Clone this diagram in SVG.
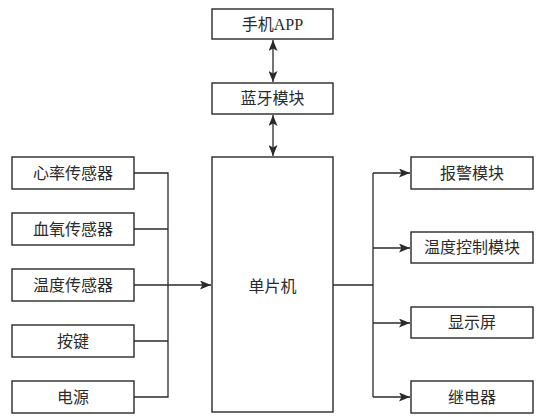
<svg xmlns="http://www.w3.org/2000/svg" width="537" height="417" viewBox="0 0 537 417">
<style>
.box{fill:#fff;stroke:#2a2a2a;stroke-width:1.4}
.t{font-family:"Liberation Serif","Noto Sans CJK SC",serif;font-size:16px;fill:#2a2a2a;text-anchor:middle;dominant-baseline:central}
.c{fill:none;stroke:#2a2a2a;stroke-width:1.3}
</style>
<defs>
<marker id="ah" viewBox="0 0 11 9" refX="11" refY="4.5" markerWidth="11" markerHeight="9" markerUnits="userSpaceOnUse" orient="auto-start-reverse">
<path d="M0,0 L11,4.5 L0,9 L2.5,4.5 Z" fill="#2a2a2a"/>
</marker>
</defs>
<rect width="537" height="417" fill="#fff"/>
<g id="connectors">
<line class="c" x1="273" y1="40" x2="273" y2="82" marker-start="url(#ah)" marker-end="url(#ah)"/>
<line class="c" x1="273" y1="115" x2="273" y2="156" marker-start="url(#ah)" marker-end="url(#ah)"/>
<path class="c" d="M134,173 H168 V397 H134 M134,229 H168 M134,341 H168"/>
<line class="c" x1="134" y1="285" x2="211" y2="285" marker-end="url(#ah)"/>
<path class="c" d="M333,285 H373 M373,173 V397"/>
<line class="c" x1="373" y1="173" x2="410" y2="173" marker-end="url(#ah)"/>
<line class="c" x1="373" y1="248" x2="410" y2="248" marker-end="url(#ah)"/>
<line class="c" x1="373" y1="323" x2="410" y2="323" marker-end="url(#ah)"/>
<line class="c" x1="373" y1="397" x2="410" y2="397" marker-end="url(#ah)"/>
</g>
<g id="app"><rect class="box" x="212" y="9" width="121" height="30"/><text class="t" x="272.5" y="24">手机APP</text></g>
<g id="bt"><rect class="box" x="212" y="83" width="121" height="31"/><text class="t" x="272.5" y="98.5">蓝牙模块</text></g>
<g id="mcu"><rect class="box" x="212" y="157" width="121" height="255"/><text class="t" x="272.5" y="286">单片机</text></g>
<g id="hr"><rect class="box" x="12" y="157" width="122" height="32"/><text class="t" x="73" y="173">心率传感器</text></g>
<g id="spo2"><rect class="box" x="12" y="213" width="122" height="32"/><text class="t" x="73" y="229">血氧传感器</text></g>
<g id="temp"><rect class="box" x="12" y="269" width="122" height="32"/><text class="t" x="73" y="285">温度传感器</text></g>
<g id="key"><rect class="box" x="12" y="325" width="122" height="32"/><text class="t" x="73" y="341">按键</text></g>
<g id="power"><rect class="box" x="12" y="381" width="122" height="32"/><text class="t" x="73" y="397">电源</text></g>
<g id="alarm"><rect class="box" x="411" y="157" width="122" height="32"/><text class="t" x="472" y="173">报警模块</text></g>
<g id="tctl"><rect class="box" x="411" y="232" width="122" height="31"/><text class="t" x="472" y="247.5">温度控制模块</text></g>
<g id="disp"><rect class="box" x="411" y="307" width="122" height="31"/><text class="t" x="472" y="322.5">显示屏</text></g>
<g id="relay"><rect class="box" x="411" y="381" width="122" height="32"/><text class="t" x="472" y="397">继电器</text></g>
</svg>
